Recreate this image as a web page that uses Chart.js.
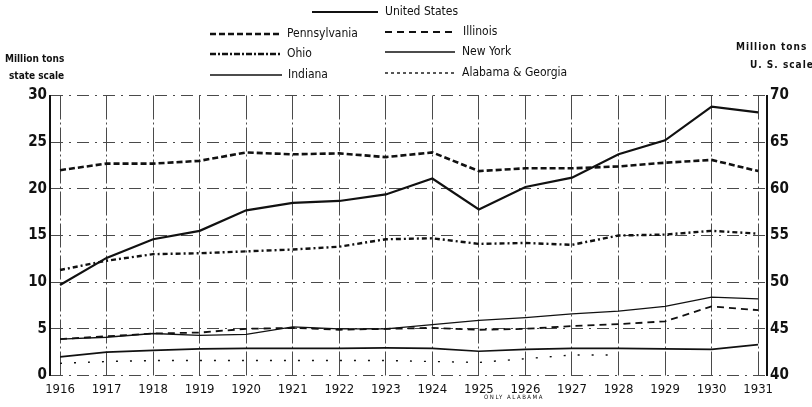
<!DOCTYPE html>
<html>
<head>
<meta charset="utf-8">
<script src="https://cdn.jsdelivr.net/npm/chart.js@4.4.1/dist/chart.umd.min.js"></script>
<style>
  html, body { margin: 0; padding: 0; background: #fff; }
  #wrap { width: 812px; height: 407px; position: relative; overflow: hidden; }
</style>
</head>
<body>
<div id="wrap"><canvas id="c" width="812" height="407"></canvas></div>
<script>
// Production, million tons, 1916-1931
const years = [1916, 1917, 1918, 1919, 1920, 1921, 1922, 1923, 1924, 1925, 1926, 1927, 1928, 1929, 1930, 1931];
const yearLabels = years.map(String);

// U.S. total, read against the right-hand (U.S.) scale
const unitedStates   = [49.7, 52.6, 54.6, 55.5, 57.7, 58.5, 58.7, 59.4, 61.1, 57.8, 60.2, 61.2, 63.7, 65.2, 68.8, 68.2];
// States, read against the left-hand (state) scale
const pennsylvania   = [22.0, 22.7, 22.7, 23.0, 23.9, 23.7, 23.8, 23.4, 23.9, 21.9, 22.2, 22.2, 22.4, 22.8, 23.1, 21.9];
const illinois       = [3.9, 4.2, 4.5, 4.6, 5.0, 5.1, 4.9, 5.0, 5.1, 4.9, 5.0, 5.3, 5.5, 5.8, 7.4, 7.0];
const ohio           = [11.3, 12.3, 13.0, 13.1, 13.3, 13.5, 13.8, 14.6, 14.7, 14.1, 14.2, 14.0, 15.0, 15.1, 15.5, 15.2];
const newYork        = [2.0, 2.5, 2.7, 2.85, 2.9, 2.9, 2.9, 2.95, 2.9, 2.6, 2.8, 2.9, 2.9, 2.85, 2.8, 3.3];
const indiana        = [3.9, 4.1, 4.5, 4.3, 4.4, 5.2, 5.0, 5.0, 5.45, 5.9, 6.2, 6.6, 6.9, 7.4, 8.4, 8.2];
const alabamaGeorgia = [1.3, 1.5, 1.6, 1.6, 1.6, 1.6, 1.6, 1.6, 1.5, 1.4, 1.8, 2.2, 2.2, null, null, null];

const stateTicks = [0, 5, 10, 15, 20, 25, 30];
const usTicks    = [40, 45, 50, 55, 60, 65, 70];

const FONT = "'DejaVu Sans Condensed', 'Liberation Sans Narrow', 'DejaVu Sans', sans-serif";
const INK = '#111';

const pts = arr => years.map((yr, i) => ({ x: yr, y: arr[i] }));

function series(label, arr, axis, width, dash, legendDash) {
  return {
    label, data: pts(arr), yAxisID: axis,
    borderColor: INK, backgroundColor: INK,
    borderWidth: width, borderDash: dash, legendDash: legendDash || dash,
    pointRadius: 0, tension: 0, spanGaps: false, fill: false
  };
}

const datasets = [
  series('United States', unitedStates, 'y2', 2.2, []),
  series('Pennsylvania', pennsylvania, 'y', 2.6, [6, 3]),
  series('Illinois', illinois, 'y', 1.8, [7, 5]),
  series('Ohio', ohio, 'y', 2.4, [5, 3, 2, 3], [6, 2, 2, 2]),
  series('New York', newYork, 'y', 1.7, []),
  series('Indiana', indiana, 'y', 1.3, []),
  series('Alabama & Georgia', alabamaGeorgia, 'y', 1.4, [2, 12], [3, 3])
];

// Two-column key above the plot plus the axis captions
const keyLayout = {
  'United States':     { x1: 312, x2: 378, y: 12, tx: 385 },
  'Pennsylvania':      { x1: 210, x2: 282, y: 34, tx: 287 },
  'Illinois':          { x1: 385, x2: 455, y: 32, tx: 463 },
  'Ohio':              { x1: 210, x2: 282, y: 54, tx: 287 },
  'New York':          { x1: 385, x2: 455, y: 52, tx: 462 },
  'Indiana':           { x1: 210, x2: 282, y: 75, tx: 288 },
  'Alabama & Georgia': { x1: 385, x2: 455, y: 73, tx: 462 }
};

const captions = {
  id: 'captions',
  afterDraw(chart) {
    const ctx = chart.ctx;
    ctx.save();
    ctx.fillStyle = INK;
    ctx.strokeStyle = INK;
    ctx.textBaseline = 'middle';
    ctx.textAlign = 'left';
    chart.data.datasets.forEach(ds => {
      const k = keyLayout[ds.label];
      if (!k) return;
      ctx.lineWidth = ds.borderWidth;
      ctx.setLineDash(ds.legendDash || []);
      ctx.beginPath();
      ctx.moveTo(k.x1, k.y);
      ctx.lineTo(k.x2, k.y);
      ctx.stroke();
      ctx.setLineDash([]);
      ctx.font = '12px ' + FONT;
      ctx.fillText(ds.label, k.tx, k.y);
    });
    ctx.font = 'bold 10px ' + FONT;
    ctx.fillText('Million tons', 5, 59);
    ctx.fillText('state scale', 9, 76);
    if ('letterSpacing' in ctx) ctx.letterSpacing = '1px';
    ctx.fillText('Million tons', 736, 47);
    ctx.fillText('U. S. scale', 750, 65);
    ctx.font = '6px ' + FONT;
    ctx.textAlign = 'center';
    if ('letterSpacing' in ctx) ctx.letterSpacing = '1.5px';
    ctx.fillText('ONLY ALABAMA', 514, 397);
    ctx.restore();
  }
};

new Chart(document.getElementById('c'), {
  type: 'line',
  data: { datasets },
  options: {
    responsive: false,
    animation: false,
    layout: { padding: { top: 95.5, left: 0, right: 0, bottom: 0 } },
    plugins: { legend: { display: false }, tooltip: { enabled: false } },
    scales: {
      x: {
        type: 'linear',
        min: 1915.785, max: 1931.19,
        afterFit: s => { s.height = 31.5; },
        afterBuildTicks: s => { s.ticks = years.map(v => ({ value: v })); },
        ticks: {
          autoSkip: false, maxRotation: 0, includeBounds: false, padding: 6,
          color: INK, font: { family: FONT, size: 13 },
          callback: (v, i) => yearLabels[i]
        },
        grid: { color: '#4a4a4a', lineWidth: 1, drawTicks: false },
        border: { display: false, dash: [24, 3, 2, 3] }
      },
      y: {
        position: 'left', min: 0, max: 30,
        afterFit: s => { s.width = 50; },
        afterBuildTicks: s => { s.ticks = stateTicks.map(v => ({ value: v })); },
        ticks: { padding: 3, color: INK, font: { family: FONT, size: 15, weight: 'bold' } },
        grid: { color: '#4a4a4a', lineWidth: 1, drawTicks: false },
        border: { display: true, color: INK, width: 2, dash: [12, 6, 2, 6] }
      },
      y2: {
        position: 'right', min: 40, max: 70,
        afterFit: s => { s.width = 45; },
        afterBuildTicks: s => { s.ticks = usTicks.map(v => ({ value: v })); },
        ticks: { padding: 3, color: INK, font: { family: FONT, size: 15, weight: 'bold' } },
        grid: { drawOnChartArea: false, drawTicks: false },
        border: { display: true, color: INK, width: 2 }
      }
    }
  },
  plugins: [captions]
});
</script>
</body>
</html>
